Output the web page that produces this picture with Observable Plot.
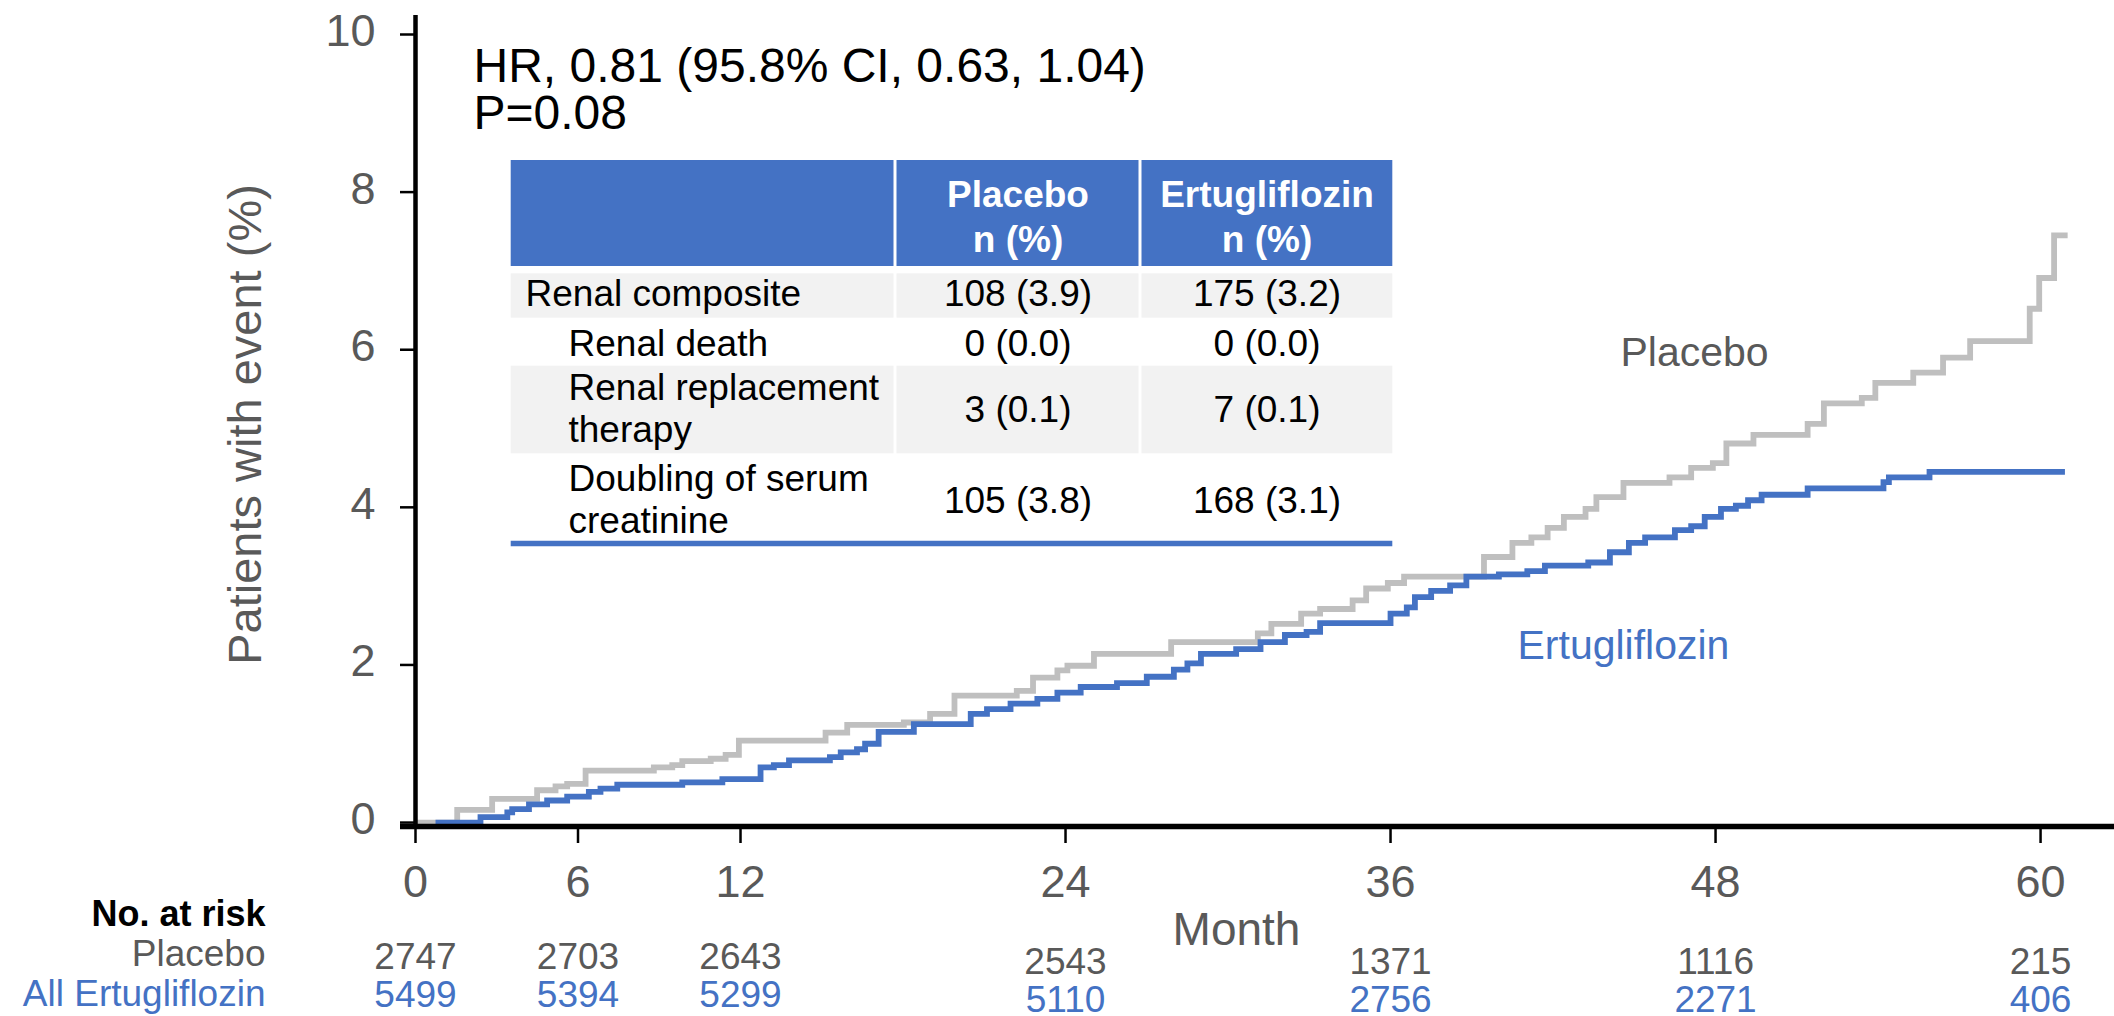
<!DOCTYPE html>
<html>
<head>
<meta charset="utf-8">
<script src="https://cdn.jsdelivr.net/npm/d3@7"></script>
<script src="https://cdn.jsdelivr.net/npm/@observablehq/plot@0.6"></script>
<style>
  html, body { margin: 0; padding: 0; background: #fff; }
  #chart svg { display: block; }
</style>
</head>
<body>
<div id="chart"></div>
<script>
// ---------------- DATA ----------------
const placeboMonths = [0, 1.54, 2.83, 4.49, 5.17, 5.6, 6.28, 8.8, 9.48, 9.85,
  10.9, 11.45, 11.94, 15.14, 15.94, 18.03, 19.0, 19.9, 22.2, 22.8,
  23.7, 24.07, 25.05, 27.9, 31.1, 31.6, 32.7, 33.4, 34.6, 35.1,
  35.9, 36.5, 39.45, 40.5, 41.2, 41.8, 42.4, 43.2, 43.6, 44.6,
  46.3, 47.1, 47.9, 48.4, 49.4, 51.4, 52.0, 53.4, 53.9, 55.3,
  56.4, 57.4, 59.6, 59.95, 60.5, 61.0];
const placeboPct = [0, 0.16, 0.30, 0.41, 0.46, 0.49, 0.66, 0.70, 0.73, 0.78,
  0.81, 0.86, 1.04, 1.14, 1.24, 1.27, 1.38, 1.61, 1.67, 1.84,
  1.93, 1.99, 2.14, 2.29, 2.40, 2.52, 2.65, 2.71, 2.82, 2.97,
  3.04, 3.12, 3.37, 3.55, 3.62, 3.74, 3.88, 3.98, 4.13, 4.31,
  4.38, 4.50, 4.56, 4.81, 4.92, 5.06, 5.32, 5.39, 5.58, 5.71,
  5.90, 6.11, 6.52, 6.91, 7.45, 7.45];

const ertuMonths = [0.74, 2.4, 3.39, 3.57, 4.19, 4.86, 5.6, 6.4, 6.83, 7.45,
  9.85, 11.33, 12.74, 13.23, 13.79, 15.3, 15.7, 16.3, 16.6, 17.1,
  18.4, 20.5, 21.1, 21.97, 22.96, 23.7, 24.56, 25.9, 27.0, 28.0,
  28.5, 29.0, 30.3, 31.2, 32.1, 32.9, 33.4, 36.0, 36.6, 36.9,
  37.5, 38.2, 38.8, 40.0, 41.05, 41.7, 43.3, 44.1, 44.8, 45.4,
  46.5, 47.1, 47.6, 48.2, 48.75, 49.2, 49.7, 51.4, 54.2, 54.4,
  55.9, 60.9];
const ertuPct = [0, 0.07, 0.13, 0.17, 0.23, 0.28, 0.33, 0.39, 0.43, 0.48,
  0.51, 0.55, 0.70, 0.73, 0.79, 0.83, 0.89, 0.93, 1.00, 1.15,
  1.25, 1.38, 1.44, 1.51, 1.57, 1.65, 1.72, 1.77, 1.85, 1.94,
  2.02, 2.14, 2.20, 2.29, 2.38, 2.42, 2.53, 2.65, 2.73, 2.86,
  2.94, 3.01, 3.12, 3.15, 3.19, 3.26, 3.30, 3.43, 3.55, 3.62,
  3.71, 3.76, 3.88, 3.98, 4.02, 4.09, 4.16, 4.24, 4.32, 4.38,
  4.45, 4.45];

const xTicks = [0, 6, 12, 24, 36, 48, 60];
const yTicks = [0, 2, 4, 6, 8, 10];

const riskMonths = [0, 6, 12, 24, 36, 48, 60];
const riskPlacebo = [2747, 2703, 2643, 2543, 1371, 1116, 215];
const riskErtu = [5499, 5394, 5299, 5110, 2756, 2271, 406];
const riskRowLabels = ["Placebo", "All Ertugliflozin"];
const riskTitle = "No. at risk";

const seriesNames = ["Placebo", "Ertugliflozin"];
const statsText = ["HR, 0.81 (95.8% CI, 0.63, 1.04)", "P=0.08"];

const tableHeaders = ["Placebo\nn (%)", "Ertugliflozin\nn (%)"];
const tableRowLabels = ["Renal composite", "Renal death", "Renal replacement\ntherapy", "Doubling of serum\ncreatinine"];
const tablePlacebo = ["108 (3.9)", "0 (0.0)", "3 (0.1)", "105 (3.8)"];
const tableErtu = ["175 (3.2)", "0 (0.0)", "7 (0.1)", "168 (3.1)"];

const xLabel = "Month";
const yLabel = "Patients with event (%)";

// ---------------- LAYOUT / STYLE ----------------
const W = 2114, H = 1016;
const ML = 415, MR = 0, MT = 34, MB = 190;
const xMax = 62.73, yMin = -0.05, yMax = 10;
const kx = (W - ML - MR) / xMax;
const ky = (H - MB - MT) / (yMax - yMin);
const px2x = X => (X - ML) / kx;          // pixel -> month
const px2y = Y => yMin + (H - MB - Y) / ky; // pixel -> percent

const FONT = "'Liberation Sans', Arial, Helvetica, sans-serif";
const TXT = "#595959", BLUE = "#4472C4", GRAYLINE = "#BFBFBF", SHADE = "#F2F2F2";

const placebo = placeboMonths.map((m, i) => ({month: m, pct: placeboPct[i]}));
const ertu = ertuMonths.map((m, i) => ({month: m, pct: ertuPct[i]}));

// table geometry (pixels)
const colSpans = [[510.7, 893.5], [896.5, 1138.5], [1141.5, 1392.3]];
const colCenters = [1017.5, 1266.5];
const headerBand = [160, 266];
const rowBands = [[273.3, 317.7], [317.7, 365.7], [365.7, 453.3], [453.3, 540]];
const rowShaded = [true, false, true, false];
const labelX = [525, 568, 568, 568];
const labelBase = [305, 355, 441.7, 532.7];
const valueBase = [305, 355, 421.7, 512.7];

const headerCells = colSpans.map(c => ({X1: c[0], X2: c[1], Y1: headerBand[0], Y2: headerBand[1]}));
const shadeCells = [];
rowBands.forEach((b, r) => { if (rowShaded[r]) colSpans.forEach(c => shadeCells.push({X1: c[0], X2: c[1], Y1: b[0], Y2: b[1]})); });

const rectOpts = {x1: d => px2x(d.X1), x2: d => px2x(d.X2), y1: d => px2y(d.Y1), y2: d => px2y(d.Y2)};

const chart = Plot.plot({
  width: W, height: H,
  marginLeft: ML, marginRight: MR, marginTop: MT, marginBottom: MB,
  x: {domain: [0, xMax]},
  y: {domain: [yMin, yMax]},
  style: {fontFamily: FONT, background: "white", overflow: "visible"},
  marks: [
    // table
    Plot.rect(headerCells, {...rectOpts, fill: BLUE}),
    Plot.rect(shadeCells, {...rectOpts, fill: SHADE}),
    Plot.ruleY([px2y(543)], {x1: px2x(510.7), x2: px2x(1392.3), stroke: BLUE, strokeWidth: 5.5}),
    Plot.text(tableHeaders, {x: (d, i) => px2x(colCenters[i]), y: () => px2y(251.7), text: d => d,
      textAnchor: "middle", lineAnchor: "bottom", lineHeight: 1.216, fontSize: 37, fontWeight: "bold", fill: "white"}),
    Plot.text(tableRowLabels, {x: (d, i) => px2x(labelX[i]), y: (d, i) => px2y(labelBase[i]), text: d => d,
      textAnchor: "start", lineAnchor: "bottom", lineHeight: 1.15, fontSize: 37, fill: "black"}),
    Plot.text(tablePlacebo, {x: () => px2x(colCenters[0]), y: (d, i) => px2y(valueBase[i]), text: d => d,
      textAnchor: "middle", lineAnchor: "bottom", fontSize: 37, fill: "black"}),
    Plot.text(tableErtu, {x: () => px2x(colCenters[1]), y: (d, i) => px2y(valueBase[i]), text: d => d,
      textAnchor: "middle", lineAnchor: "bottom", fontSize: 37, fill: "black"}),

    // stats
    Plot.text([statsText.join("\n")], {x: () => px2x(473), y: () => px2y(128), text: d => d,
      textAnchor: "start", lineAnchor: "bottom", lineHeight: 0.97, fontSize: 48, fill: "black"}),

    // curves
    Plot.line(placebo, {x: "month", y: "pct", curve: "step-after", stroke: GRAYLINE, strokeWidth: 5.8,
      strokeLinejoin: "miter", strokeLinecap: "butt", strokeMiterlimit: 4}),
    Plot.line(ertu, {x: "month", y: "pct", curve: "step-after", stroke: BLUE, strokeWidth: 5.8,
      strokeLinejoin: "miter", strokeLinecap: "butt", strokeMiterlimit: 4}),

    // series labels
    Plot.text([seriesNames[0]], {x: () => px2x(1620), y: () => px2y(365), text: d => d,
      textAnchor: "start", lineAnchor: "bottom", fontSize: 41, fill: TXT}),
    Plot.text([seriesNames[1]], {x: () => px2x(1517), y: () => px2y(658), text: d => d,
      textAnchor: "start", lineAnchor: "bottom", fontSize: 41, fill: BLUE}),

    // axes
    Plot.axisY(yTicks, {tickSize: 15, fill: "none", stroke: "black", strokeWidth: 2.5, label: null}),
    Plot.axisY(yTicks, {tickSize: 0, tickPadding: 40, tickFormat: d => String(d), fill: TXT, fontSize: 45, dy: -3, label: null}),
    Plot.axisX(xTicks, {tickSize: 17, tickPadding: 22, tickFormat: d => String(d), stroke: "black", strokeWidth: 2.5,
      fill: TXT, fontSize: 45, label: null}),
    Plot.ruleY([yMin], {x1: px2x(400), x2: xMax, stroke: "black", strokeWidth: 5.5}),
    Plot.ruleX([0], {y1: yMin, y2: px2y(15), stroke: "black", strokeWidth: 4.5}),

    // axis titles
    Plot.text([xLabel], {x: () => px2x(1236), y: () => px2y(944), text: d => d,
      textAnchor: "middle", lineAnchor: "bottom", fontSize: 46, fill: TXT}),
    Plot.text([yLabel], {x: () => px2x(260), y: () => px2y(424), text: d => d, rotate: -90,
      textAnchor: "middle", lineAnchor: "bottom", fontSize: 47, fill: TXT}),

    // numbers at risk
    Plot.text([riskTitle], {x: () => px2x(265), y: () => px2y(925), text: d => d,
      textAnchor: "end", lineAnchor: "bottom", fontSize: 36, fontWeight: "bold", fill: "black"}),
    Plot.text([riskRowLabels[0]], {x: () => px2x(265), y: () => px2y(965), text: d => d,
      textAnchor: "end", lineAnchor: "bottom", fontSize: 37, fill: TXT}),
    Plot.text([riskRowLabels[1]], {x: () => px2x(265), y: () => px2y(1005), text: d => d,
      textAnchor: "end", lineAnchor: "bottom", fontSize: 37, fill: BLUE}),
    Plot.text(riskMonths, {x: d => d, y: d => px2y(968 + (d >= 24 ? 5 : 0)), text: (d, i) => String(riskPlacebo[i]),
      textAnchor: "middle", lineAnchor: "bottom", fontSize: 37, fill: TXT}),
    Plot.text(riskMonths, {x: d => d, y: d => px2y(1006 + (d >= 24 ? 5 : 0)), text: (d, i) => String(riskErtu[i]),
      textAnchor: "middle", lineAnchor: "bottom", fontSize: 37, fill: BLUE})
  ]
});

document.getElementById("chart").appendChild(chart);
</script>
</body>
</html>
